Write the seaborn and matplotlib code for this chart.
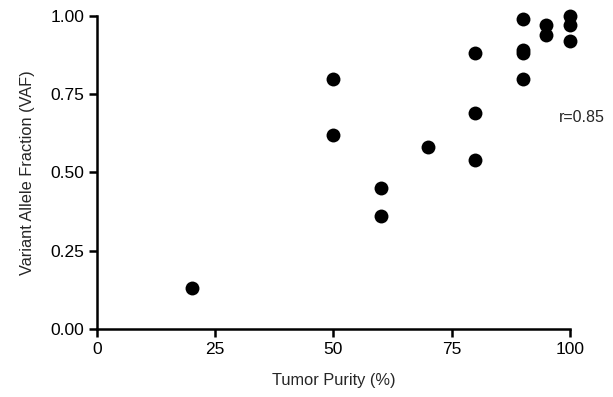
import matplotlib
matplotlib.use("Agg")
import matplotlib.pyplot as plt
import seaborn as sns
import pandas as pd

# tumor purity (%) and variant allele fraction
purity = [20, 50, 50, 60, 60, 70, 80, 80, 80, 90, 90, 90, 90, 95, 95, 100, 100, 100]
vaf = [0.13, 0.80, 0.62, 0.45, 0.36, 0.58, 0.88, 0.69, 0.54, 0.99, 0.89, 0.88, 0.80,
       0.97, 0.94, 1.00, 0.97, 0.92]
x_ticks = [0, 25, 50, 75, 100]
y_ticks = [0.00, 0.25, 0.50, 0.75, 1.00]

df = pd.DataFrame({"purity": purity, "vaf": vaf})

sns.set_style("ticks")
plt.rcParams["font.family"] = ["Liberation Sans", "DejaVu Sans"]

fig = plt.figure(figsize=(6.13, 3.97), dpi=100)
ax = fig.add_axes([0.158, 0.171, 0.772, 0.789])

sns.scatterplot(data=df, x="purity", y="vaf", ax=ax, color="black", s=100,
                edgecolor="black", linewidth=0, clip_on=False, zorder=3)

ax.set_xlim(0, 100)
ax.set_ylim(0, 1.0)
ax.set_xticks(x_ticks)
ax.set_yticks(y_ticks)
ax.set_yticklabels([f"{v:.2f}" for v in y_ticks])
ax.set_xlabel("Tumor Purity (%)", fontsize=11.8, labelpad=12)
ax.set_ylabel("Variant Allele Fraction (VAF)", fontsize=11.8, labelpad=11)
ax.tick_params(axis="both", labelsize=12.5, width=1.8, length=6, color="black",
               labelcolor="black", pad=3)
for side in ["left", "bottom"]:
    ax.spines[side].set_linewidth(1.8)
    ax.spines[side].set_color("black")
sns.despine(ax=ax)

fig.text(0.912, 0.705, "r=0.85", fontsize=11.5, va="center", ha="left")

fig.savefig("out.png", dpi=100)
